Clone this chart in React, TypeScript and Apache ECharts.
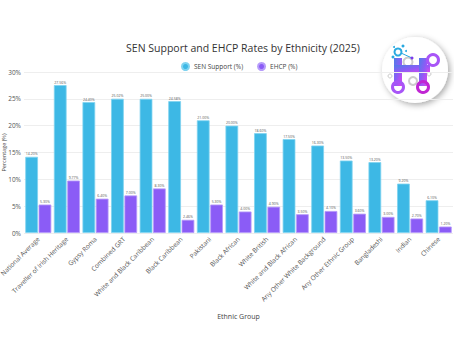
import React, { useEffect, useRef } from "react";
import * as echarts from "echarts";

const categories = [
  "National Average",
  "Traveller of Irish Heritage",
  "Gypsy Roma",
  "Combined GRT",
  "White and Black Caribbean",
  "Black Caribbean",
  "Pakistani",
  "Black African",
  "White British",
  "White and Black African",
  "Any Other White Background",
  "Any Other Ethnic Group",
  "Bangladeshi",
  "Indian",
  "Chinese",
];
const senSupport = [14.2, 27.56, 24.4, 25.02, 25.0, 24.58, 21.0, 20.0, 18.6, 17.5, 16.3, 13.5, 13.2, 9.2, 6.1];
const ehcp = [5.3, 9.77, 6.4, 7.0, 8.3, 2.46, 5.3, 4.0, 4.9, 3.5, 4.1, 3.6, 3.0, 2.7, 1.2];
const yTicks = [0, 5, 10, 15, 20, 25, 30];

const FONT = "'Open Sans', sans-serif";

export default function App() {
  const ref = useRef<HTMLDivElement>(null);
  useEffect(() => {
    if (!ref.current) return;
    const chart = echarts.init(ref.current, undefined, { renderer: "svg" });
    const grad = new echarts.graphic.LinearGradient(0, 0, 1, 1, [
      { offset: 0, color: "#4f7de8" },
      { offset: 0.5, color: "#8b5cf6" },
      { offset: 1, color: "#d946ef" },
    ]);
    chart.setOption({
      animation: false,
      textStyle: { fontFamily: FONT },
      title: {
        text: "SEN Support and EHCP Rates by Ethnicity (2025)",
        left: 238,
        top: 37,
        textAlign: "center",
        textStyle: { fontSize: 10.5, fontWeight: "normal", color: "#333", fontFamily: FONT },
      },
      legend: {
        top: 57,
        left: 176,
        itemWidth: 7,
        itemHeight: 7,
        icon: "circle",
        itemGap: 14,
        textStyle: { fontSize: 6.5, color: "#444", fontFamily: FONT },
        data: ["SEN Support (%)", "EHCP (%)"],
        selectedMode: false,
      },
      grid: { left: 24, right: 1, top: 72, bottom: 108, outerBoundsMode: "none", containLabel: false },
      xAxis: {
        type: "category",
        data: categories,
        name: "Ethnic Group",
        nameLocation: "middle",
        nameGap: 80,
        nameMoveOverlap: false,
        nameTextStyle: { fontSize: 7, color: "#444" },
        axisTick: { show: false },
        axisLine: { show: false },
        axisLabel: { rotate: 45, fontSize: 6.5, color: "#555", interval: 0, margin: 5 },
      },
      yAxis: {
        type: "value",
        min: 0,
        max: 30,
        interval: 5,
        name: "Percentage (%)",
        nameLocation: "middle",
        nameGap: 17,
        nameMoveOverlap: false,
        nameRotate: 90,
        nameTextStyle: { fontSize: 5.5, lineHeight: 6, color: "#444" },
        axisLabel: {
          fontSize: 6.5,
          color: "#555",
          margin: 3,
          formatter: (v: number) => (yTicks.includes(v) ? v + "%" : ""),
        },
        splitLine: { lineStyle: { color: "#eeeeee", width: 1 } },
      },
      series: [
        {
          name: "SEN Support (%)",
          type: "bar",
          data: senSupport,
          barGap: "5%",
          barCategoryGap: "9%",
          itemStyle: { color: "#3db8e5", borderColor: "#7fd3f0", borderWidth: 0.8 },
          label: {
            show: true,
            position: "top",
            distance: 1,
            fontSize: 3.5,
            color: "#555",
            formatter: (p: any) => p.value.toFixed(2) + "%",
          },
        },
        {
          name: "EHCP (%)",
          type: "bar",
          data: ehcp,
          itemStyle: { color: "#8b5cf6", borderColor: "#b69cfa", borderWidth: 0.8 },
          label: {
            show: true,
            position: "top",
            distance: 1,
            fontSize: 3.5,
            color: "#555",
            formatter: (p: any) => p.value.toFixed(2) + "%",
          },
        },
      ],
      graphic: [
        {
          type: "group",
          x: 381,
          y: 36,
          children: [
            {
              type: "circle",
              shape: { cx: 34, cy: 34, r: 33 },
              style: { fill: "#fff", shadowBlur: 6, shadowColor: "rgba(0,0,0,0.35)", shadowOffsetX: 2, shadowOffsetY: 2 },
            },
            { type: "circle", shape: { cx: 27, cy: 26, r: 4.5 }, style: { fill: "none", stroke: "#ccc", lineWidth: 2 } },
            { type: "circle", shape: { cx: 32, cy: 45, r: 4 }, style: { fill: "none", stroke: "#ccc", lineWidth: 2 } },
            { type: "circle", shape: { cx: 48, cy: 38, r: 2 }, style: { fill: "none", stroke: "#ccc", lineWidth: 1 } },
            { type: "circle", shape: { cx: 9, cy: 40, r: 2 }, style: { fill: "none", stroke: "#ccc", lineWidth: 1 } },
            { type: "rect", shape: { x: 13, y: 22, width: 8, height: 28 }, style: { fill: grad } },
            { type: "rect", shape: { x: 13, y: 29, width: 36, height: 7 }, style: { fill: grad } },
            { type: "rect", shape: { x: 38, y: 22, width: 8, height: 28 }, style: { fill: grad } },
            { type: "circle", shape: { cx: 17, cy: 51, r: 5.5 }, style: { fill: "none", stroke: "#a855f7", lineWidth: 3 } },
            { type: "circle", shape: { cx: 42, cy: 51, r: 5.5 }, style: { fill: "none", stroke: "#c026d3", lineWidth: 3 } },
            { type: "circle", shape: { cx: 52, cy: 24, r: 5.5 }, style: { fill: "none", stroke: "#a855f7", lineWidth: 3 } },
            { type: "circle", shape: { cx: 17, cy: 16, r: 3.5 }, style: { fill: "none", stroke: "#29a9e0", lineWidth: 2 } },
            { type: "circle", shape: { cx: 12, cy: 21, r: 1.5 }, style: { fill: "#29a9e0" } },
            { type: "circle", shape: { cx: 22, cy: 10, r: 1.5 }, style: { fill: "#29a9e0" } },
            { type: "circle", shape: { cx: 13, cy: 11, r: 1 }, style: { fill: "#29a9e0" } },
            { type: "circle", shape: { cx: 25, cy: 15, r: 1 }, style: { fill: "#29a9e0" } },
            { type: "line", shape: { x1: 20, y1: 17, x2: 31, y2: 22 }, style: { stroke: "#29a9e0", lineWidth: 1 } },
            { type: "circle", shape: { cx: 31, cy: 22, r: 1.5 }, style: { fill: "#7c3aed" } },
          ],
        },
      ],
    });
    return () => chart.dispose();
  }, []);
  return <div ref={ref} style={{ width: 454, height: 341, position: "absolute", left: 0, top: 0 }} />;
}
